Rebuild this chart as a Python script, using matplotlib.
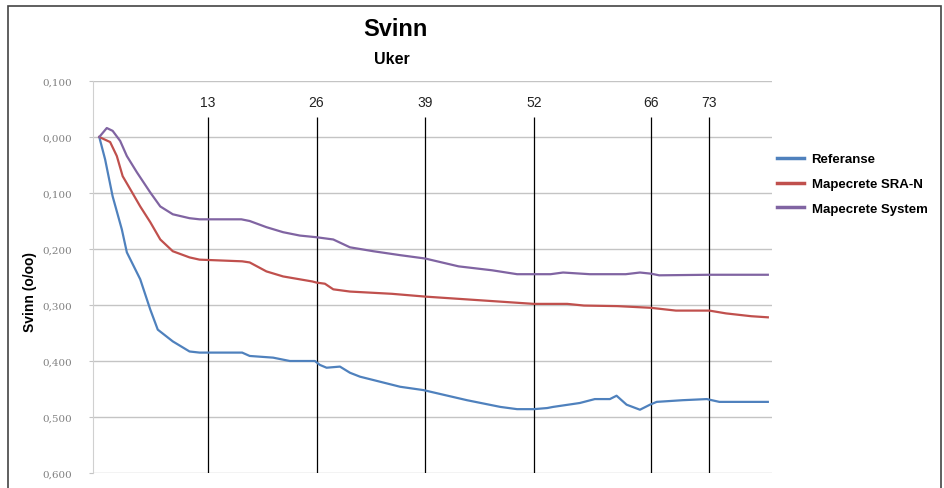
import matplotlib
matplotlib.use("Agg")
import matplotlib.pyplot as plt
from matplotlib.patches import Rectangle

plt.rcParams['font.family'] = ['Liberation Sans', 'DejaVu Sans']

# ---- data (weeks, shrinkage o/oo) ----
ref_weeks = [0, 0.7, 1.6, 2.7, 3.3, 4.9, 6.1, 7.0, 8.8, 10.8, 12, 17.1, 18, 20.8, 22.8,
             25.8, 26.4, 27.2, 28.8, 30, 31.2, 36, 38.8, 44, 48, 50, 52, 53.6, 54.3,
             57.5, 59.3, 61.1, 61.9, 63.1, 64.7, 65.9, 66.7, 69.8, 72.7, 74.2, 78.2, 80]
ref_vals = [0.0, 0.04, 0.106, 0.165, 0.206, 0.254, 0.308, 0.344, 0.365, 0.383, 0.385,
            0.385, 0.391, 0.394, 0.40, 0.40, 0.407, 0.412, 0.41, 0.421, 0.428, 0.446,
            0.452, 0.47, 0.482, 0.486, 0.486, 0.484, 0.482, 0.475, 0.468, 0.468, 0.462,
            0.478, 0.487, 0.478, 0.473, 0.47, 0.468, 0.473, 0.473, 0.473]

sra_weeks = [0, 1.3, 2.1, 2.8, 3.7, 4.9, 6.1, 7.3, 8.8, 10.8, 12, 17.1, 18, 20, 22,
             25.5, 26, 27, 28, 30, 35, 39, 43, 47, 52, 56, 58, 62, 66, 69, 73, 75, 78, 80]
sra_vals = [0.0, 0.009, 0.034, 0.07, 0.093, 0.124, 0.152, 0.183, 0.204, 0.215, 0.219,
            0.222, 0.224, 0.24, 0.249, 0.258, 0.26, 0.262, 0.272, 0.276, 0.28, 0.285,
            0.289, 0.293, 0.298, 0.298, 0.301, 0.302, 0.305, 0.31, 0.31, 0.315, 0.32, 0.322]

sys_weeks = [0, 0.9, 1.6, 2.5, 3.3, 4.5, 6.1, 7.3, 8.8, 10.8, 12, 17, 18, 20, 22, 24,
             26, 28, 30, 32.8, 36, 39, 43, 47, 50, 52, 54, 55.5, 58.7, 63, 64.7, 66, 67,
             73, 80]
sys_vals = [0.0, -0.016, -0.011, 0.007, 0.034, 0.063, 0.099, 0.124, 0.138, 0.145, 0.147,
            0.147, 0.15, 0.161, 0.17, 0.176, 0.179, 0.183, 0.197, 0.204, 0.211, 0.217,
            0.231, 0.238, 0.245, 0.245, 0.245, 0.242, 0.245, 0.245, 0.242, 0.244, 0.247,
            0.246, 0.246]

week_marks = [13, 26, 39, 52, 66, 73]
y_ticks = [-0.1, 0.0, 0.1, 0.2, 0.3, 0.4, 0.5, 0.6]
y_tick_labels = ["0,100", "0,000", "0,100", "0,200", "0,300", "0,400", "0,500", "0,600"]
series_names = ["Referanse", "Mapecrete SRA-N", "Mapecrete System"]
colors = ['#4f81bd', '#c0504d', '#8064a2']

W, H = 944, 489
fig = plt.figure(figsize=(W / 100, H / 100), dpi=100)
ax = fig.add_axes([93 / W, 1 - 474 / H, (772 - 93) / W, (474 - 82) / H])

for wk, vals, name, c in zip([ref_weeks, sra_weeks, sys_weeks],
                             [ref_vals, sra_vals, sys_vals], series_names, colors):
    ax.plot(wk, vals, color=c, lw=1.6, label=name, solid_joinstyle='round')

ax.set_xlim(-0.75, 80.5)
ax.set_ylim(0.6, -0.1)

for yv in y_ticks:
    ax.axhline(yv, color='#c4c4c4', lw=1.0, zorder=0)

ax.vlines(week_marks, 0.6, -0.036, color='black', lw=0.9, zorder=1)
for wk in week_marks:
    ax.text(wk, -0.063, str(wk), ha='center', va='center', fontsize=10, color='#222222')

ax.set_yticks(y_ticks)
ax.set_yticklabels(y_tick_labels, fontsize=7.5, color='#808080', family=['DejaVu Serif'])
ax.tick_params(axis='y', length=3, color='#c4c4c4', pad=12)
ax.set_xticks([])
for s in ['top', 'right', 'bottom']:
    ax.spines[s].set_visible(False)
ax.spines['left'].set_color('#d0d0d0')

fig.text(30 / W, 1 - 292 / H, "Svinn (o/oo)", rotation=90, ha='center', va='center',
         fontsize=10, fontweight='bold')
fig.text(395 / W, 1 - 30 / H, "Svinn", ha='center', va='center', fontsize=17,
         fontweight='bold')
fig.text(392 / W, 1 - 60 / H, "Uker", ha='center', va='center', fontsize=11.5,
         fontweight='bold')

leg = ax.legend(loc='center left', bbox_to_anchor=(772 / W, 1 - 185 / H),
                bbox_transform=fig.transFigure, frameon=False,
                prop={'weight': 'bold', 'size': 9.5}, handlelength=2.0,
                handletextpad=0.6, labelspacing=0.95, borderaxespad=0)
for ln in leg.get_lines():
    ln.set_linewidth(2.5)

fig.patches.append(Rectangle((8 / W, -0.05), (941 - 8) / W, 1 - 7 / H + 0.05,
                             transform=fig.transFigure, fill=False,
                             edgecolor='#444444', lw=1.2))

fig.savefig('out.png', dpi=100)
